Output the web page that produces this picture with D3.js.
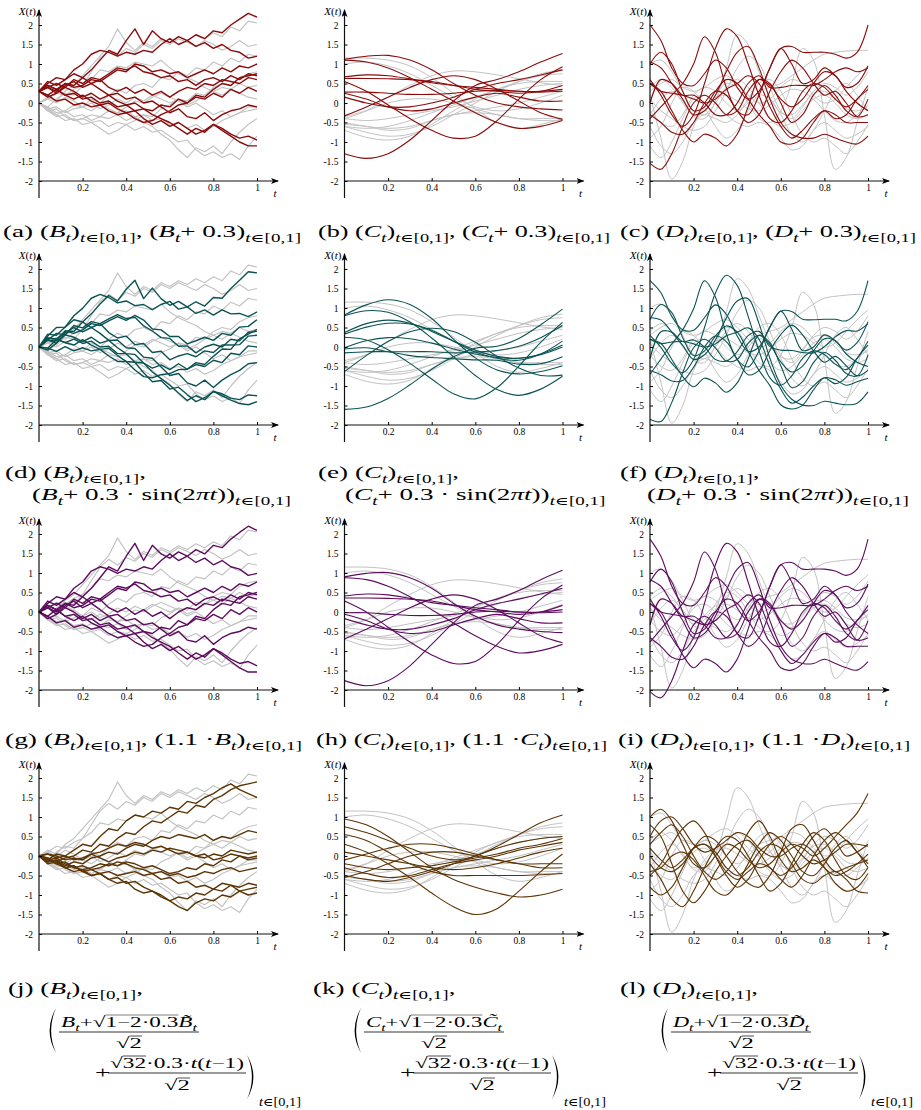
<!DOCTYPE html>
<html>
<head>
<meta charset="utf-8">
<script src="https://cdn.jsdelivr.net/npm/d3@7"></script>
<style>
  body { margin: 0; background: #fff; }
  svg { display: block; }
  text { font-family: "Liberation Serif", "DejaVu Serif", serif; fill: #000; }
</style>
</head>
<body>
<svg id="fig" width="921" height="1110"></svg>
<script>
// ---- time grids (x values of the sampled paths) ----
const tB = [0,0.04,0.08,0.12,0.16,0.2,0.24,0.28,0.32,0.36,0.4,0.44,0.48,0.52,0.56,0.6,0.64,0.68,0.72,0.76,0.8,0.84,0.88,0.92,0.96,1];
const tC = [0,0.1,0.2,0.3,0.4,0.5,0.6,0.7,0.8,0.9,1];
const tD = [0,0.05,0.1,0.15,0.2,0.25,0.3,0.35,0.4,0.45,0.5,0.55,0.6,0.65,0.7,0.75,0.8,0.85,0.9,0.95,1];
const yTicks = [-2,-1.5,-1,-0.5,0,0.5,1,1.5,2];
const xTicks = [0.2,0.4,0.6,0.8,1];

// ---- gray reference samples (same in every row of a column) ----
const grayB = [
  [0,0.15,0.05,0.3,0.45,0.7,0.95,1.2,1.45,1.9,1.55,1.35,1.55,1.45,1.65,1.55,1.7,1.6,1.75,1.65,1.8,1.7,1.95,1.85,2.1,2.05],
  [0,-0.1,0.1,0.25,0.2,0.45,0.8,1.15,1.35,1.2,1.4,1.3,1.5,1.4,1.6,1.5,1.65,1.55,1.45,1.6,1.5,1.35,1.45,1.6,1.45,1.5],
  [0,-0.15,-0.3,-0.2,-0.05,-0.1,0.1,0,0.2,0.35,0.25,0.45,0.5,0.4,0.65,0.6,0.8,0.7,0.9,0.85,1.05,0.95,1.15,1.05,1.25,1.2],
  [0,-0.2,-0.3,-0.45,-0.4,-0.55,-0.5,-0.65,-0.8,-0.7,-0.55,-0.45,-0.3,-0.35,-0.15,-0.05,0.1,0.05,0.25,0.2,0.4,0.5,0.45,0.65,0.75,0.8],
  [0,-0.1,-0.25,-0.2,-0.35,-0.3,-0.45,-0.35,-0.4,-0.3,-0.45,-0.35,-0.5,-0.6,-0.8,-0.95,-1.2,-1.4,-1.15,-1.25,-1.1,-1.3,-1,-0.75,-0.55,-0.4],
  [0,-0.2,-0.35,-0.3,-0.45,-0.4,-0.5,-0.45,-0.6,-0.5,-0.55,-0.7,-0.6,-0.75,-0.7,-0.85,-1,-0.95,-1.2,-1.35,-1.25,-1.4,-1.3,-1.45,-1.1,-0.85],
  [0,0.1,0,0.15,0.05,-0.1,0,-0.15,-0.05,0.1,0,0.15,0.05,0.2,0.1,0,0.1,-0.05,0.05,0.2,0.3,0.2,0.35,0.25,0.15,0.1],
  [0,-0.15,-0.1,-0.25,-0.15,-0.1,-0.2,-0.05,-0.15,-0.25,-0.2,-0.35,-0.3,-0.45,-0.4,-0.55,-0.5,-0.65,-0.55,-0.7,-0.6,-0.45,-0.35,-0.25,-0.2,-0.15],
  [0,0.1,0.25,0.2,0.35,0.45,0.6,0.85,0.8,0.95,0.9,1.05,1,0.95,1.1,0.9,0.75,0.65,0.55,0.4,0.3,0.4,0.35,0.5,0.4,0.45],
  [0,-0.2,-0.15,-0.35,-0.45,-0.4,-0.3,-0.35,-0.2,-0.25,-0.1,0.05,0,0.15,0.25,0.15,0.05,-0.1,0,-0.15,-0.3,-0.2,-0.35,-0.25,-0.1,-0.1]
];
const grayC = [
  [1.15,1.15,1.1,0.95,0.65,0.25,-0.15,-0.5,-0.65,-0.55,-0.4],
  [-0.4,-0.2,0.15,0.45,0.7,0.82,0.8,0.72,0.62,0.52,0.45],
  [-0.6,-0.75,-0.85,-0.8,-0.6,-0.3,0,0.3,0.55,0.75,0.85],
  [-0.7,-0.88,-0.95,-0.85,-0.55,-0.2,0.1,0.35,0.5,0.55,0.55],
  [-0.4,-0.45,-0.4,-0.3,-0.2,-0.1,0.05,0.2,0.35,0.45,0.5],
  [-0.5,-0.6,-0.65,-0.6,-0.45,-0.3,-0.2,-0.1,0,0.15,0.3],
  [-0.35,-0.2,0,0.1,0.1,0,-0.15,-0.3,-0.4,-0.4,-0.4],
  [1,1.05,0.95,0.75,0.45,0.15,-0.1,-0.2,-0.15,0,0.2],
  [-0.55,-0.6,-0.7,-0.65,-0.45,-0.3,-0.25,-0.3,-0.4,-0.45,-0.45],
  [-0.6,-0.65,-0.6,-0.45,-0.25,-0.05,0.15,0.35,0.55,0.7,0.75]
];
const grayD = [
  [0.2,-0.9,-1.95,-1.5,-0.6,-0.1,0.15,0.2,0.05,-0.15,-0.2,-0.05,0.2,0.35,0.3,0.1,-0.2,-0.45,-0.5,-0.3,-0.05],
  [-0.3,0.1,0.3,0.05,-0.35,-0.4,0.05,0.9,1.75,1.5,0.8,0.15,-0.25,-0.3,-0.05,0.25,0.3,0.1,-0.15,-0.2,-0.1],
  [0.4,0.6,0.4,0,-0.3,-0.2,0.2,0.5,0.4,0,-0.4,-0.5,-0.2,0.5,1.4,1.1,-0.3,-1.7,-1.4,-0.5,0.4],
  [-0.2,-0.5,-0.6,-0.3,0.2,0.4,0.3,0,-0.2,0,0.3,0.4,0.5,0.7,0.9,1.1,1.25,1.3,1.33,1.35,1.35],
  [1,1.1,0.8,0.3,-0.2,-0.3,0,0.4,0.6,0.4,0,-0.4,-0.6,-0.5,-0.2,0.1,0.2,0,-0.3,-0.4,-0.3],
  [-0.6,-1.1,-1.3,-1,-0.5,-0.3,-0.4,-0.5,-0.3,0.1,0.5,0.6,0.3,-0.3,-0.8,-1,-0.9,-1.1,-1.3,-1,-0.55],
  [0.3,0.5,0.6,0.4,0.3,0.4,0.6,0.7,0.5,0.2,0,0.1,0.4,0.6,0.5,0.2,0,0.1,0.4,0.7,0.95],
  [-0.9,-0.6,0,0.4,0.3,-0.1,-0.6,-0.9,-0.7,-0.2,0.2,0.1,-0.3,-0.8,-1,-0.7,-0.2,0.3,0.5,0.2,-0.2],
  [0.1,-0.2,-0.4,-0.6,-0.7,-0.6,-0.2,0.3,0.9,1.2,1,0.4,-0.2,-0.4,-0.1,0.3,0.5,0.4,0.2,0.4,0.8],
  [-1.1,-1.4,-1,-0.4,0.1,0.2,0,-0.3,-0.5,-0.6,-0.5,-0.6,-0.9,-1.2,-1.1,-0.7,-0.5,-0.7,-0.9,-0.8,-0.6]
];

// ---- coloured samples, column B ----
const redB = [
  [0.3,0.4,0.3,0.5,0.45,0.65,0.85,1.1,1.35,1.25,1.6,1.9,1.5,1.85,1.65,1.55,1.7,1.6,1.75,1.65,1.85,1.8,2,2.15,2.3,2.2],
  [0.3,0.5,0.65,0.6,0.85,1,1.25,1.35,1.3,1.2,1.3,1.25,1.35,1.3,1.5,1.65,1.5,1.6,1.45,1.55,1.4,1.5,1.35,1.3,1.15,1.2],
  [0.3,0.45,0.35,0.5,0.4,0.45,0.6,0.55,0.7,0.85,0.8,1,0.95,0.8,0.85,0.75,0.8,0.65,0.75,0.85,0.75,0.9,0.8,0.95,0.9,1],
  [0.3,0.2,0.05,0.1,-0.05,0,-0.1,-0.05,-0.2,-0.3,-0.25,-0.4,-0.5,-0.45,-0.3,-0.2,-0.05,0,0.2,0.15,0.35,0.5,0.45,0.65,0.7,0.75],
  [0.3,0.4,0.5,0.4,0.6,0.5,0.65,0.6,0.75,0.9,0.85,0.95,0.8,0.75,0.65,0.7,0.55,0.6,0.45,0.6,0.65,0.55,0.7,0.6,0.75,0.7],
  [0.3,0.55,0.45,0.6,0.75,0.65,0.5,0.6,0.4,0.3,0.4,0.25,0.35,0.2,0.3,0.15,0.3,0.4,0.35,0.5,0.45,0.6,0.55,0.5,0.65,0.6],
  [0.3,0.15,0.25,0.4,0.3,0.15,0.25,0.1,0.2,0.05,-0.05,0,-0.15,-0.2,-0.05,-0.1,0.1,0,0.15,0.1,0.25,0.15,0.35,0.25,0.4,0.3],
  [0.3,0.4,0.25,0.45,0.55,0.4,0.5,0.35,0.2,0.25,0.1,0.15,0,0.05,-0.1,-0.25,-0.15,-0.35,-0.4,-0.25,-0.45,-0.3,-0.2,-0.15,-0.05,-0.1],
  [0.3,0.2,0.35,0.2,0.1,0.2,0.05,-0.05,0,-0.15,-0.25,-0.2,-0.4,-0.55,-0.45,-0.6,-0.5,-0.65,-0.8,-0.7,-0.55,-0.65,-0.8,-0.9,-0.85,-0.95],
  [0.3,0.45,0.35,0.2,0.25,0.1,0.15,0,0.05,-0.1,-0.05,-0.2,-0.15,-0.3,-0.4,-0.5,-0.65,-0.8,-0.65,-0.75,-0.55,-0.7,-0.85,-1,-1.1,-1.1]
];
const tealB = [
  [0,0.18,0.15,0.41,0.4,0.64,0.85,1.1,1.32,1.18,1.48,1.71,1.24,1.51,1.24,1.07,1.17,1.03,1.16,1.05,1.27,1.25,1.5,1.71,1.93,1.9],
  [0,0.28,0.5,0.51,0.8,0.99,1.25,1.35,1.27,1.13,1.18,1.06,1.09,0.96,1.09,1.17,0.97,1.03,0.86,0.95,0.82,0.95,0.85,0.86,0.78,0.9],
  [0,0.23,0.2,0.41,0.35,0.44,0.6,0.55,0.67,0.78,0.68,0.81,0.69,0.46,0.44,0.27,0.27,0.08,0.16,0.25,0.17,0.35,0.3,0.51,0.53,0.7],
  [0,-0.03,-0.11,0.01,-0.1,-0.02,-0.1,-0.06,-0.23,-0.37,-0.37,-0.59,-0.76,-0.79,-0.71,-0.68,-0.58,-0.57,-0.4,-0.45,-0.24,-0.05,-0.06,0.21,0.33,0.45],
  [0,0.18,0.35,0.31,0.55,0.49,0.65,0.6,0.72,0.83,0.73,0.76,0.54,0.41,0.24,0.22,0.02,0.03,-0.15,0,0.07,0,0.2,0.16,0.38,0.4],
  [0,0.33,0.3,0.51,0.7,0.64,0.5,0.6,0.37,0.23,0.28,0.06,0.09,-0.14,-0.11,-0.33,-0.23,-0.17,-0.25,-0.1,-0.14,0.05,0.05,0.06,0.28,0.3],
  [0,-0.08,0.1,0.31,0.25,0.14,0.25,0.1,0.17,-0.02,-0.17,-0.19,-0.41,-0.54,-0.46,-0.58,-0.43,-0.57,-0.45,-0.5,-0.34,-0.4,-0.16,-0.2,0.03,0],
  [0,0.18,0.1,0.36,0.5,0.39,0.5,0.35,0.17,0.18,-0.02,-0.04,-0.26,-0.29,-0.51,-0.73,-0.68,-0.92,-1,-0.85,-1.04,-0.85,-0.71,-0.6,-0.43,-0.4],
  [0,-0.03,0.2,0.11,0.05,0.19,0.05,-0.06,-0.03,-0.22,-0.37,-0.39,-0.66,-0.89,-0.86,-1.08,-1.03,-1.22,-1.4,-1.3,-1.14,-1.2,-1.31,-1.35,-1.23,-1.25],
  [0,0.23,0.2,0.11,0.2,0.09,0.15,0,0.02,-0.17,-0.17,-0.39,-0.41,-0.64,-0.81,-0.98,-1.18,-1.37,-1.25,-1.35,-1.14,-1.25,-1.36,-1.45,-1.48,-1.4]
];
const purpleB = [
  [0,0.11,0,0.22,0.17,0.39,0.61,0.88,1.16,1.05,1.43,1.76,1.32,1.71,1.49,1.38,1.54,1.43,1.6,1.49,1.71,1.65,1.87,2.04,2.2,2.09],
  [0,0.22,0.39,0.33,0.61,0.77,1.05,1.16,1.1,0.99,1.1,1.05,1.16,1.1,1.32,1.49,1.32,1.43,1.27,1.38,1.21,1.32,1.16,1.1,0.94,0.99],
  [0,0.17,0.06,0.22,0.11,0.17,0.33,0.28,0.44,0.61,0.55,0.77,0.72,0.55,0.61,0.5,0.55,0.39,0.5,0.61,0.5,0.66,0.55,0.72,0.66,0.77],
  [0,-0.11,-0.28,-0.22,-0.39,-0.33,-0.44,-0.39,-0.55,-0.66,-0.61,-0.77,-0.88,-0.83,-0.66,-0.55,-0.39,-0.33,-0.11,-0.17,0.06,0.22,0.17,0.39,0.44,0.5],
  [0,0.11,0.22,0.11,0.33,0.22,0.39,0.33,0.5,0.66,0.61,0.72,0.55,0.5,0.39,0.44,0.28,0.33,0.17,0.33,0.39,0.28,0.44,0.33,0.5,0.44],
  [0,0.28,0.17,0.33,0.5,0.39,0.22,0.33,0.11,0,0.11,-0.06,0.06,-0.11,0,-0.17,0,0.11,0.06,0.22,0.17,0.33,0.28,0.22,0.39,0.33],
  [0,-0.17,-0.06,0.11,0,-0.17,-0.06,-0.22,-0.11,-0.28,-0.39,-0.33,-0.5,-0.55,-0.39,-0.44,-0.22,-0.33,-0.17,-0.22,-0.06,-0.17,0.06,-0.06,0.11,0],
  [0,0.11,-0.06,0.17,0.28,0.11,0.22,0.06,-0.11,-0.06,-0.22,-0.17,-0.33,-0.28,-0.44,-0.61,-0.5,-0.72,-0.77,-0.61,-0.83,-0.66,-0.55,-0.5,-0.39,-0.44],
  [0,-0.11,0.06,-0.11,-0.22,-0.11,-0.28,-0.39,-0.33,-0.5,-0.61,-0.55,-0.77,-0.94,-0.83,-0.99,-0.88,-1.05,-1.21,-1.1,-0.94,-1.05,-1.21,-1.32,-1.27,-1.38],
  [0,0.17,0.06,-0.11,-0.06,-0.22,-0.17,-0.33,-0.28,-0.44,-0.39,-0.55,-0.5,-0.66,-0.77,-0.88,-1.05,-1.21,-1.05,-1.16,-0.94,-1.1,-1.27,-1.43,-1.54,-1.54]
];
const brownB = [
  [0,-0.1,0.05,0,0.15,0.3,0.25,0.5,0.7,0.65,0.9,1.05,1,1.15,1.1,1.25,1.2,1.4,1.35,1.5,1.6,1.75,1.85,1.7,1.6,1.5],
  [0,-0.05,-0.15,-0.05,0,0.15,0.1,0.3,0.25,0.45,0.6,0.55,0.75,0.9,0.85,1,1.15,1.1,1.3,1.25,1.45,1.55,1.7,1.8,1.85,1.9],
  [0,-0.15,-0.1,-0.25,-0.15,-0.2,-0.05,0,0.1,0.05,0.2,0.3,0.25,0.4,0.5,0.45,0.55,0.5,0.45,0.55,0.4,0.5,0.45,0.55,0.65,0.6],
  [0,-0.1,-0.2,-0.15,-0.3,-0.35,-0.5,-0.45,-0.6,-0.7,-0.65,-0.85,-0.95,-0.9,-1.05,-1.15,-1.05,-1.1,-0.95,-1,-0.85,-0.9,-0.75,-0.8,-0.7,-0.75],
  [0,-0.15,-0.1,-0.3,-0.25,-0.4,-0.5,-0.45,-0.6,-0.55,-0.7,-0.65,-0.8,-0.9,-1,-1.15,-1.3,-1.4,-1.2,-1.1,-1.15,-1,-1.05,-0.9,-1,-0.95],
  [0,-0.1,-0.05,-0.2,-0.3,-0.25,-0.35,-0.3,-0.2,-0.25,-0.15,-0.2,-0.3,-0.25,-0.35,-0.45,-0.4,-0.3,-0.35,-0.2,-0.25,-0.1,-0.15,0,-0.05,0],
  [0,-0.05,-0.2,-0.3,-0.25,-0.4,-0.35,-0.45,-0.4,-0.5,-0.45,-0.4,-0.5,-0.45,-0.6,-0.55,-0.7,-0.65,-0.8,-0.75,-0.85,-0.7,-0.75,-0.9,-0.85,-0.8],
  [0,0.05,-0.05,0,-0.1,-0.05,0.05,-0.05,-0.15,-0.05,0,0.1,0.05,0.15,0.1,0.2,0.15,0.1,0,0.05,-0.1,-0.05,0.05,0,-0.1,-0.05],
  [0,-0.2,-0.15,-0.3,-0.4,-0.35,-0.3,-0.2,-0.25,-0.15,-0.2,-0.3,-0.35,-0.45,-0.4,-0.5,-0.45,-0.55,-0.5,-0.4,-0.45,-0.35,-0.3,-0.4,-0.35,-0.3],
  [0,0.05,0,-0.1,-0.05,-0.1,0.05,0.1,0.2,0.3,0.25,0.35,0.3,0.2,0.25,0.15,0.05,0.1,0,-0.05,0.05,0,0.15,0.1,0.05,0.1]
];

// ---- coloured samples, column C ----
const redC = [
  [-1.3,-1.42,-1.3,-0.95,-0.45,0.05,0.45,0.6,0.8,1.05,1.27],
  [0.55,0.3,-0.05,-0.4,-0.7,-0.9,-0.85,-0.45,0.1,0.6,0.93],
  [1.12,1.2,1.22,1.1,0.85,0.5,0.2,0,-0.1,-0.15,-0.18],
  [1.1,1.05,0.9,0.65,0.35,0.05,-0.25,-0.5,-0.65,-0.6,-0.45],
  [0.67,0.72,0.7,0.62,0.52,0.45,0.4,0.35,0.3,0.3,0.35],
  [0.63,0.63,0.62,0.6,0.55,0.45,0.35,0.3,0.25,0.3,0.45],
  [0.28,0.28,0.25,0.22,0.22,0.25,0.3,0.32,0.3,0.28,0.3],
  [0.25,0.1,-0.1,-0.2,-0.15,0,0.15,0.25,0.15,0.05,0.05],
  [-0.33,-0.1,0.15,0.4,0.6,0.7,0.6,0.35,0.05,-0.25,-0.42],
  [0.15,0,-0.1,-0.1,0,0.15,0.35,0.5,0.6,0.72,0.85]
];
const tealC = [
  [-1.6,-1.54,-1.32,-0.97,-0.57,-0.25,-0.03,0.02,0.22,0.57,0.97],
  [0.25,0.18,-0.07,-0.42,-0.82,-1.2,-1.33,-1.04,-0.49,0.12,0.63],
  [0.82,1.08,1.21,1.09,0.73,0.2,-0.28,-0.59,-0.69,-0.63,-0.48],
  [0.8,0.93,0.89,0.64,0.23,-0.25,-0.73,-1.09,-1.24,-1.08,-0.75],
  [0.37,0.6,0.69,0.61,0.4,0.15,-0.08,-0.24,-0.29,-0.18,0.05],
  [0.33,0.51,0.61,0.59,0.43,0.15,-0.13,-0.29,-0.34,-0.18,0.15],
  [-0.02,0.16,0.24,0.21,0.1,-0.05,-0.18,-0.27,-0.29,-0.2,0],
  [-0.05,-0.02,-0.12,-0.22,-0.27,-0.3,-0.33,-0.34,-0.44,-0.43,-0.25],
  [-0.63,-0.22,0.14,0.39,0.48,0.4,0.12,-0.24,-0.54,-0.73,-0.72],
  [-0.15,-0.12,-0.12,-0.12,-0.12,-0.15,-0.13,-0.09,0.02,0.24,0.55]
];
const purpleC = [
  [-1.76,-1.89,-1.76,-1.38,-0.83,-0.28,0.17,0.33,0.55,0.83,1.07],
  [0.28,0,-0.39,-0.77,-1.1,-1.32,-1.27,-0.83,-0.22,0.33,0.69],
  [0.9,0.99,1.01,0.88,0.61,0.22,-0.11,-0.33,-0.44,-0.5,-0.53],
  [0.88,0.83,0.66,0.39,0.06,-0.28,-0.61,-0.88,-1.05,-0.99,-0.83],
  [0.41,0.46,0.44,0.35,0.24,0.17,0.11,0.06,0,0,0.06],
  [0.36,0.36,0.35,0.33,0.28,0.17,0.06,0,-0.06,0,0.17],
  [-0.02,-0.02,-0.06,-0.09,-0.09,-0.06,0,0.02,0,-0.02,0],
  [-0.06,-0.22,-0.44,-0.55,-0.5,-0.33,-0.17,-0.06,-0.17,-0.28,-0.28],
  [-0.69,-0.44,-0.17,0.11,0.33,0.44,0.33,0.06,-0.28,-0.61,-0.79],
  [-0.17,-0.33,-0.44,-0.44,-0.33,-0.17,0.06,0.22,0.33,0.46,0.61]
];
const brownC = [
  [0.95,0.8,0.5,0.1,-0.3,-0.6,-0.8,-0.95,-1.05,-1,-0.85],
  [0.3,0.1,-0.2,-0.55,-0.95,-1.3,-1.5,-1.35,-0.9,-0.4,0.05],
  [0.75,0.6,0.4,0.2,0,-0.1,0,0.25,0.55,0.85,1.05],
  [-0.5,-0.6,-0.65,-0.55,-0.4,-0.2,0,0.2,0.35,0.45,0.5],
  [-0.2,-0.3,-0.35,-0.3,-0.25,-0.15,-0.05,0.05,0.2,0.3,0.45],
  [0.1,0,-0.1,-0.2,-0.3,-0.35,-0.3,-0.2,-0.05,0.1,0.2],
  [-0.55,-0.4,-0.2,0,0.1,0.1,0,-0.1,-0.2,-0.3,-0.3],
  [-0.1,0.05,0.2,0.3,0.3,0.2,0.05,-0.1,-0.2,-0.2,-0.2],
  [-0.3,-0.45,-0.55,-0.5,-0.35,-0.2,-0.1,0,0.15,0.25,0.35],
  [0.55,0.4,0.1,-0.2,-0.4,-0.5,-0.5,-0.5,-0.5,-0.48,-0.45]
];

// ---- coloured samples, column D ----
const redD = [
  [2,1.6,0.9,0.5,0.45,0.75,1.1,0.9,0.4,0.1,0.3,0.9,1.4,1.45,1.3,1.3,1.3,1.25,1.15,1.3,2],
  [0.6,0.2,-0.3,-0.6,-0.3,0.5,1.4,1.9,1.7,1,0.2,-0.4,-0.5,-0.2,0.3,0.5,0.4,0.1,-0.1,0.1,0.45],
  [-0.4,-0.1,0.2,0.5,1,1.7,1.3,0.4,-0.2,-0.3,0.2,0.9,1.4,1,0.5,0.6,0.9,0.7,0.4,0.5,0.95],
  [1.05,0.9,0.5,0.1,-0.3,-0.2,0.2,0.8,1.3,1.45,0.9,0.1,-0.5,-0.8,-0.9,-0.9,-0.8,-0.9,-1,-1.05,-0.85],
  [-1.55,-1.7,-1.3,-0.6,0,0.2,0,-0.3,-0.2,0.3,0.6,0.45,0.1,-0.1,0.1,0.5,0.8,0.7,0.3,0,-0.2],
  [0.5,0.3,-0.2,-0.7,-1,-0.8,-0.9,-1.1,-0.8,-0.1,0.6,0.5,0,-0.5,-0.3,0.2,0.45,0.2,-0.2,-0.35,0.1],
  [1,1.3,1,0.3,-0.2,-0.1,0.3,0.6,0.5,0.1,-0.3,-0.6,-1,-1.05,-0.9,-0.5,-0.2,-0.3,-0.5,-0.5,-0.5],
  [0,0.6,0.5,0.2,0.2,0,-0.3,-0.3,0,0.5,0.7,0.4,0.4,0.45,0.45,0.45,0.6,0.8,0.9,0.8,0.9],
  [-0.3,-0.5,-0.75,-0.8,-0.5,0,0.3,0.2,-0.2,-0.5,-0.3,0.3,0.8,1.1,0.9,0.5,0.2,0.3,0,-0.35,-0.3],
  [0.5,0.3,0.25,0.2,0.1,0,0.1,0.35,0.5,0.7,0.5,-0.1,-0.6,-0.9,-0.7,-0.4,-0.2,-0.4,-0.3,0.1,0.35]
];
const tealD = [
  [1.7,1.39,0.78,0.44,0.43,0.75,1.08,0.84,0.28,-0.11,0,0.51,0.92,0.91,0.71,0.7,0.71,0.71,0.67,0.91,1.7],
  [0.3,-0.01,-0.42,-0.66,-0.32,0.5,1.38,1.84,1.58,0.79,-0.1,-0.79,-0.98,-0.74,-0.29,-0.1,-0.19,-0.44,-0.58,-0.29,0.15],
  [-0.7,-0.31,0.08,0.44,0.98,1.7,1.28,0.34,-0.32,-0.51,-0.1,0.51,0.92,0.46,-0.09,0,0.31,0.16,-0.08,0.11,0.65],
  [0.75,0.69,0.38,0.04,-0.32,-0.2,0.18,0.74,1.18,1.24,0.6,-0.29,-0.98,-1.34,-1.49,-1.5,-1.39,-1.44,-1.48,-1.44,-1.15],
  [-1.85,-1.91,-1.42,-0.66,-0.02,0.2,-0.02,-0.36,-0.32,0.09,0.3,0.06,-0.38,-0.64,-0.49,-0.1,0.21,0.16,-0.18,-0.39,-0.5],
  [0.2,0.09,-0.32,-0.76,-1.02,-0.8,-0.92,-1.16,-0.92,-0.31,0.3,0.11,-0.48,-1.04,-0.89,-0.4,-0.14,-0.34,-0.68,-0.74,-0.2],
  [0.7,1.09,0.88,0.24,-0.22,-0.1,0.28,0.54,0.38,-0.11,-0.6,-0.99,-1.48,-1.59,-1.49,-1.1,-0.79,-0.84,-0.98,-0.89,-0.8],
  [-0.3,0.39,0.38,0.14,0.18,0,-0.32,-0.36,-0.12,0.29,0.4,0.01,-0.08,-0.09,-0.14,-0.15,0.01,0.26,0.42,0.41,0.6],
  [-0.6,-0.71,-0.87,-0.86,-0.52,0,0.28,0.14,-0.32,-0.71,-0.6,-0.09,0.32,0.56,0.31,-0.1,-0.39,-0.24,-0.48,-0.74,-0.6],
  [0.2,0.09,0.13,0.14,0.08,0,0.08,0.29,0.38,0.49,0.2,-0.49,-1.08,-1.44,-1.29,-1,-0.79,-0.94,-0.78,-0.29,0.05]
];
const purpleD = [
  [1.87,1.43,0.66,0.22,0.17,0.5,0.88,0.66,0.11,-0.22,0,0.66,1.21,1.27,1.1,1.1,1.1,1.05,0.94,1.1,1.87],
  [0.33,-0.11,-0.66,-0.99,-0.66,0.22,1.21,1.76,1.54,0.77,-0.11,-0.77,-0.88,-0.55,0,0.22,0.11,-0.22,-0.44,-0.22,0.17],
  [-0.77,-0.44,-0.11,0.22,0.77,1.54,1.1,0.11,-0.55,-0.66,-0.11,0.66,1.21,0.77,0.22,0.33,0.66,0.44,0.11,0.22,0.72],
  [0.83,0.66,0.22,-0.22,-0.66,-0.55,-0.11,0.55,1.1,1.27,0.66,-0.22,-0.88,-1.21,-1.32,-1.32,-1.21,-1.32,-1.43,-1.49,-1.27],
  [-2.04,-2.2,-1.76,-0.99,-0.33,-0.11,-0.33,-0.66,-0.55,0,0.33,0.17,-0.22,-0.44,-0.22,0.22,0.55,0.44,0,-0.33,-0.55],
  [0.22,0,-0.55,-1.1,-1.43,-1.21,-1.32,-1.54,-1.21,-0.44,0.33,0.22,-0.33,-0.88,-0.66,-0.11,0.17,-0.11,-0.55,-0.72,-0.22],
  [0.77,1.1,0.77,0,-0.55,-0.44,0,0.33,0.22,-0.22,-0.66,-0.99,-1.43,-1.49,-1.32,-0.88,-0.55,-0.66,-0.88,-0.88,-0.88],
  [-0.33,0.33,0.22,-0.11,-0.11,-0.33,-0.66,-0.66,-0.33,0.22,0.44,0.11,0.11,0.17,0.17,0.17,0.33,0.55,0.66,0.55,0.66],
  [-0.66,-0.88,-1.16,-1.21,-0.88,-0.33,0,-0.11,-0.55,-0.88,-0.66,0,0.55,0.88,0.66,0.22,-0.11,0,-0.33,-0.72,-0.66],
  [0.22,0,-0.06,-0.11,-0.22,-0.33,-0.22,0.06,0.22,0.44,0.22,-0.44,-0.99,-1.32,-1.1,-0.77,-0.55,-0.77,-0.66,-0.22,0.06]
];
const brownD = [
  [1,1.2,0.9,0.3,-0.2,-0.3,0,0.3,0.2,-0.1,-0.3,-0.2,0.1,0.3,0.2,0,0.2,0.5,0.8,1.1,1.6],
  [0.8,0.5,-0.2,-0.9,-1.2,-0.9,-0.4,0,0.3,0.4,0.1,-0.3,-0.5,-0.3,0.1,0.5,0.7,0.4,0,0.1,0.3],
  [-0.2,-0.6,-1.1,-1.3,-0.9,-0.3,0.2,0.5,0.4,0,-0.5,-0.9,-0.7,-0.2,0.3,0.6,0.4,-0.1,-0.5,-0.6,-0.3],
  [0.3,0.6,0.8,0.5,0,-0.4,-0.6,-0.4,0,0.6,0.9,0.5,-0.1,-0.4,-0.3,-0.1,-0.3,-0.7,-0.9,-0.8,-0.45],
  [-0.5,-0.2,0.3,0.7,0.9,0.6,0,-0.5,-0.8,-0.6,-0.1,0.3,0.5,0.3,0,-0.2,-0.1,0.1,0.3,0.3,0.25],
  [0,-0.3,-0.4,-0.2,0.2,0.5,0.4,0,-0.4,-0.7,-0.8,-0.5,0.1,0.7,0.8,0.4,-0.1,-0.4,-0.3,-0.2,-0.1],
  [-0.8,-1,-0.8,-0.3,0.2,0.3,0.1,-0.3,-0.5,-0.3,0.1,0.3,0.2,-0.2,-0.6,-0.7,-0.5,-0.4,-0.6,-0.9,-0.95],
  [0.5,0.9,1,0.7,0.3,0.1,0.2,0.4,0.6,0.5,0.2,0,0,0.2,0.3,0.1,-0.3,-0.5,-0.4,-0.2,0.05],
  [-0.4,-0.3,0,0.1,-0.1,-0.5,-0.9,-1,-0.7,-0.2,0.3,0.6,0.4,0,-0.4,-0.5,-0.2,0.2,0.4,0.1,-0.2],
  [0.2,-0.1,-0.3,-0.1,0.2,0.3,0,-0.4,-0.6,-0.4,-0.2,-0.3,-0.6,-0.8,-0.5,0,0.4,0.6,0.4,0.1,-0.3]
];

// ---- caption texts (*..* italic, _{..} subscript, ~{..} radicand) ----
const capRow1 = [
  '(a) (*B*_{*t*})_{*t*∈[0,1]}, (*B*_{*t*} + 0.3)_{*t*∈[0,1]}',
  '(b) (*C*_{*t*})_{*t*∈[0,1]}, (*C*_{*t*} + 0.3)_{*t*∈[0,1]}',
  '(c) (*D*_{*t*})_{*t*∈[0,1]}, (*D*_{*t*} + 0.3)_{*t*∈[0,1]}'
];
const capRow2a = ['(d) (*B*_{*t*})_{*t*∈[0,1]},', '(e) (*C*_{*t*})_{*t*∈[0,1]},', '(f) (*D*_{*t*})_{*t*∈[0,1]},'];
const capRow2b = [
  '(*B*_{*t*} + 0.3 · sin(2*πt*))_{*t*∈[0,1]}',
  '(*C*_{*t*} + 0.3 · sin(2*πt*))_{*t*∈[0,1]}',
  '(*D*_{*t*} + 0.3 · sin(2*πt*))_{*t*∈[0,1]}'
];
const capRow3 = [
  '(g) (*B*_{*t*})_{*t*∈[0,1]}, (1.1 · *B*_{*t*})_{*t*∈[0,1]}',
  '(h) (*C*_{*t*})_{*t*∈[0,1]}, (1.1 · *C*_{*t*})_{*t*∈[0,1]}',
  '(i) (*D*_{*t*})_{*t*∈[0,1]}, (1.1 · *D*_{*t*})_{*t*∈[0,1]}'
];
const capRow4 = ['(j) (*B*_{*t*})_{*t*∈[0,1]},', '(k) (*C*_{*t*})_{*t*∈[0,1]},', '(l) (*D*_{*t*})_{*t*∈[0,1]},'];
const fracTop = [
  '*B*_{*t*}+√~{1−2·0.3}*B\u0303*_{*t*}',
  '*C*_{*t*}+√~{1−2·0.3}*C\u0303*_{*t*}',
  '*D*_{*t*}+√~{1−2·0.3}*D\u0303*_{*t*}'
];
const fracTop2 = '√~{32}·0.3·*t*(*t*−1)';
const fracDen = '√~{2}';
const fracSub = '*t*∈[0,1]';

// ---- layout ----
const COL_X = [39, 344.5, 650];     // x of t = 0
const PLOT_W = 218;                 // t = 0 .. 1
const ROW_Y = [25, 269, 534, 778];  // y of X = 2
const PLOT_H = 156;                 // X = 2 .. -2
const CAP_X = [[3, 318, 620], [5, 318, 620], [5, 316, 618], [8, 313, 620]];
const ROW1_W = [298, 292, 296];
const ROW3_W = [297, 291, 292];
const GRAY = '#c2c2c2';
const ROW_COLORS = ['#8b0b0b', '#0b5353', '#5e0c5e', '#5c3506'];
const SERIF = '"Liberation Serif", "DejaVu Serif", serif';

const svg = d3.select('#fig');

svg.append('defs').append('marker')
  .attr('id', 'arr')
  .attr('viewBox', '0 0 8 6')
  .attr('refX', 7).attr('refY', 3)
  .attr('markerWidth', 8).attr('markerHeight', 6)
  .attr('markerUnits', 'userSpaceOnUse')
  .attr('orient', 'auto')
  .append('path')
  .attr('d', 'M0,0 L8,3 L0,6 L2,3 Z')
  .attr('fill', '#000');

const smooth = d3.curveCatmullRom.alpha(0.5);
const columns = [
  { t: tB, gray: grayB, sets: [redB, tealB, purpleB, brownB], curve: d3.curveLinear, gw: 1.15, cw: 1.4 },
  { t: tC, gray: grayC, sets: [redC, tealC, purpleC, brownC], curve: smooth, gw: 1, cw: 1.1 },
  { t: tD, gray: grayD, sets: [redD, tealD, purpleD, brownD], curve: smooth, gw: 1, cw: 1.1 }
];

function drawPanel(row, col) {
  const c = columns[col];
  const x0 = COL_X[col];
  const x = d3.scaleLinear().domain([0, 1]).range([x0, x0 + PLOT_W]);
  const y = d3.scaleLinear().domain([-2, 2]).range([ROW_Y[row] + PLOT_H, ROW_Y[row]]);
  const g = svg.append('g');
  const line = d3.line().x((v, i) => x(c.t[i])).y(v => y(v)).curve(c.curve);

  g.append('g').selectAll('path').data(c.gray).join('path')
    .attr('d', line).attr('fill', 'none').attr('stroke', GRAY)
    .attr('stroke-width', c.gw).attr('stroke-linejoin', 'round');
  g.append('g').selectAll('path').data(c.sets[row]).join('path')
    .attr('d', line).attr('fill', 'none').attr('stroke', ROW_COLORS[row])
    .attr('stroke-width', c.cw).attr('stroke-linejoin', 'round');

  // axes: ticks and labels from d3, axis lines drawn with arrowheads
  const ya = g.append('g').attr('transform', `translate(${x0},0)`)
    .call(d3.axisLeft(y).tickValues(yTicks).tickFormat(d => String(d))
      .tickSizeInner(-3).tickSizeOuter(0).tickPadding(6));
  const xa = g.append('g').attr('transform', `translate(0,${y(-2)})`)
    .call(d3.axisBottom(x).tickValues(xTicks).tickFormat(d => String(d))
      .tickSizeInner(-3).tickSizeOuter(0).tickPadding(3.5));
  [ya, xa].forEach(a => {
    a.select('.domain').remove();
    a.attr('font-size', 9.5).attr('font-family', SERIF);
  });

  g.append('line')
    .attr('x1', x0).attr('y1', y(-2) + 17).attr('x2', x0).attr('y2', ROW_Y[row] - 15)
    .attr('stroke', '#111').attr('stroke-width', 1.2).attr('marker-end', 'url(#arr)');
  g.append('line')
    .attr('x1', x0).attr('y1', y(-2)).attr('x2', x0 + PLOT_W + 21).attr('y2', y(-2))
    .attr('stroke', '#111').attr('stroke-width', 1.2).attr('marker-end', 'url(#arr)');

  const yl = g.append('text').attr('x', x0 - 3).attr('y', ROW_Y[row] - 10)
    .attr('text-anchor', 'end').attr('font-size', 11);
  yl.append('tspan').attr('font-style', 'italic').text('X');
  yl.append('tspan').text('(');
  yl.append('tspan').attr('font-style', 'italic').text('t');
  yl.append('tspan').text(')');
  g.append('text').attr('x', x0 + PLOT_W + 18).attr('y', y(-2) + 16)
    .attr('text-anchor', 'middle').attr('font-size', 11).attr('font-style', 'italic').text('t');
}

for (let r = 0; r < 4; r++) for (let c = 0; c < 3; c++) drawPanel(r, c);

// ---- captions ----
function runs(x, y, spec, size) {
  const g = svg.append('g');
  let cx = x, it = false, sub = false, over = false;
  spec.split(/(\*|_\{|~\{|\})/).forEach(tok => {
    if (tok === '*') { it = !it; return; }
    if (tok === '_{') { sub = true; return; }
    if (tok === '~{') { over = true; return; }
    if (tok === '}') { sub = false; over = false; return; }
    if (!tok) return;
    const fs = sub ? size * 0.7 : size;
    const ty = sub ? y + size * 0.28 : y;
    const t = g.append('text').attr('x', cx).attr('y', ty).attr('font-size', fs)
      .attr('font-style', it ? 'italic' : null).text(tok);
    const w = t.node().getComputedTextLength();
    if (over) {
      g.append('line').attr('x1', cx).attr('x2', cx + w)
        .attr('y1', ty - fs * 0.8).attr('y2', ty - fs * 0.8)
        .attr('stroke', '#000').attr('stroke-width', 0.7);
    }
    cx += w;
  });
  return { g, w: cx - x };
}
function fit(r, x, k) {
  r.g.attr('transform', `translate(${x},0) scale(${k},1) translate(${-x},0)`);
}
function fitTo(r, x, width) { fit(r, x, width / r.w); }
function bigParen(x, y0, y1, left) {
  const m = (y0 + y1) / 2, w = 8;
  const d = left
    ? `M${x + w},${y0} Q${x - w * 0.6},${m} ${x + w},${y1} Q${x - w * 0.225},${m} ${x + w},${y0}Z`
    : `M${x},${y0} Q${x + w * 1.6},${m} ${x},${y1} Q${x + w * 1.225},${m} ${x},${y0}Z`;
  svg.append('path').attr('d', d).attr('fill', '#000');
}

const CAP_FS = 16.5;
const first = runs(CAP_X[0][0], 237, capRow1[0], CAP_FS);
const kCap = ROW1_W[0] / first.w;
fit(first, CAP_X[0][0], kCap);

for (let c = 0; c < 3; c++) {
  if (c > 0) fitTo(runs(CAP_X[0][c], 237, capRow1[c], CAP_FS), CAP_X[0][c], ROW1_W[c]);
  fit(runs(CAP_X[1][c], 478, capRow2a[c], CAP_FS), CAP_X[1][c], kCap);
  fit(runs(CAP_X[1][c] + 27, 500, capRow2b[c], CAP_FS), CAP_X[1][c] + 27, kCap);
  fitTo(runs(CAP_X[2][c], 745, capRow3[c], CAP_FS), CAP_X[2][c], ROW3_W[c]);

  const cs = CAP_X[3][c];
  fit(runs(cs, 994, capRow4[c], CAP_FS), cs, kCap);

  // first fraction
  const n1x = cs + 53, n1w = 136;
  fitTo(runs(n1x, 1027, fracTop[c], 15), n1x, n1w);
  svg.append('line').attr('x1', n1x - 2).attr('x2', n1x + n1w + 2)
    .attr('y1', 1032).attr('y2', 1032).attr('stroke', '#000').attr('stroke-width', 0.8);
  const d1 = runs(0, 1048, fracDen, 15);
  const d1x = n1x + n1w / 2 - d1.w * kCap / 2;
  d1.g.remove();
  fit(runs(d1x, 1048, fracDen, 15), d1x, kCap);
  bigParen(cs + 40, 1008, 1053, true);

  // second fraction
  fit(runs(cs + 87, 1078, '+', CAP_FS), cs + 87, kCap);
  const n2x = cs + 102, n2w = 134;
  fitTo(runs(n2x, 1068, fracTop2, 15), n2x, n2w);
  svg.append('line').attr('x1', n2x - 2).attr('x2', n2x + n2w + 2)
    .attr('y1', 1073).attr('y2', 1073).attr('stroke', '#000').attr('stroke-width', 0.8);
  const d2 = runs(0, 1090, fracDen, 15);
  const d2x = n2x + n2w / 2 - d2.w * kCap / 2;
  d2.g.remove();
  fit(runs(d2x, 1090, fracDen, 15), d2x, kCap);
  bigParen(cs + 239, 1055, 1099, false);
  fitTo(runs(cs + 251, 1106, fracSub, 11.5), cs + 251, 42);
}
</script>
</body>
</html>
